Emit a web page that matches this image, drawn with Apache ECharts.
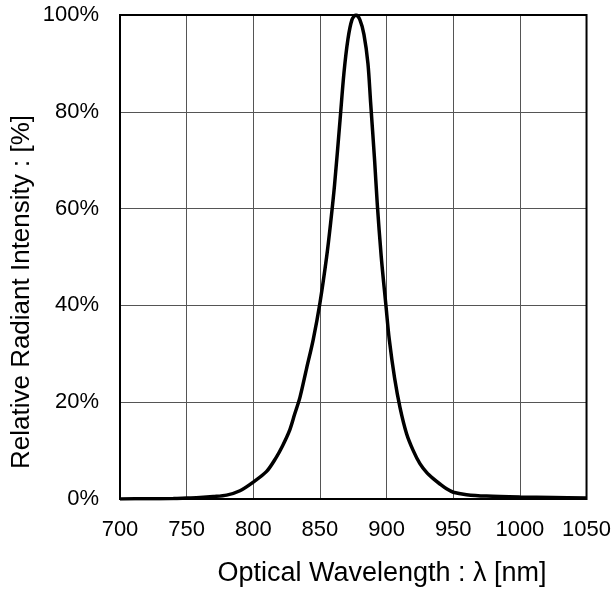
<!DOCTYPE html>
<html><head><meta charset="utf-8">
<script src="https://cdn.jsdelivr.net/npm/echarts@6/dist/echarts.min.js"></script>
<style>html,body{margin:0;padding:0;background:#fff}#c{width:614px;height:593px}</style>
</head><body><div id="c"></div>
<script>
var wavelengths = [700,720,740,750,760,770,780,790,800,810,817,822,827,831,835,840,845,850,855,858,861,865,868,871,874,877,880,883,886,888,891,893,896,899.5,902,906,910,915,920,925,930,935,940,945,950,960,975,1000,1025,1050];
var intensity  = [0,0.05,0.1,0.2,0.3,0.5,0.8,1.7,3.5,5.7,8.5,11,14,17.5,21,27,33,40.5,50,57,65,78,88,95,99,100,99,96,90,82,70,61,50,40,33,25,19,13.5,10,7.3,5.5,4.2,3.1,2.1,1.4,0.9,0.6,0.4,0.3,0.2];
var xTicks = [700,750,800,850,900,950,1000,1050];
var yTicks = [0,20,40,60,80,100];
var xName = 'Optical Wavelength : \u03bb [nm]';
var yName = 'Relative Radiant Intensity : [%]';

var pts = wavelengths.map(function(w,i){return [w,intensity[i]];});
var chart = echarts.init(document.getElementById('c'));
var font = '"Liberation Sans", Arial, sans-serif';
chart.setOption({
  animation:false,
  grid:{left:120,right:27,top:15,bottom:94,show:true,borderColor:'#000',borderWidth:2,z:5},
  xAxis:{type:'value',min:xTicks[0],max:xTicks[xTicks.length-1],interval:xTicks[1]-xTicks[0],
    axisLine:{show:false},axisTick:{show:false},
    axisLabel:{fontFamily:font,fontSize:22,color:'#000',margin:20,formatter:function(v){return String(v);}},
    splitLine:{show:true,lineStyle:{color:'#555',width:1}}},
  yAxis:{type:'value',min:yTicks[0],max:yTicks[yTicks.length-1],interval:yTicks[1]-yTicks[0],
    axisLine:{show:false},axisTick:{show:false},
    axisLabel:{fontFamily:font,fontSize:22,color:'#000',margin:21,formatter:'{value}%'},
    splitLine:{show:true,lineStyle:{color:'#555',width:1}}},
  graphic:[
    {type:'text',x:382,y:574,style:{text:xName,font:'27px "Liberation Sans", Arial, sans-serif',fill:'#000',textAlign:'center',textVerticalAlign:'middle'}},
    {type:'text',x:22,y:292,rotation:Math.PI/2,style:{text:yName,font:'26px "Liberation Sans", Arial, sans-serif',fill:'#000',textAlign:'center',textVerticalAlign:'middle'}}
  ],
  series:[{type:'line',data:pts,smooth:0.3,showSymbol:false,
    lineStyle:{color:'#000',width:3.5},z:10}]
});
</script></body></html>
